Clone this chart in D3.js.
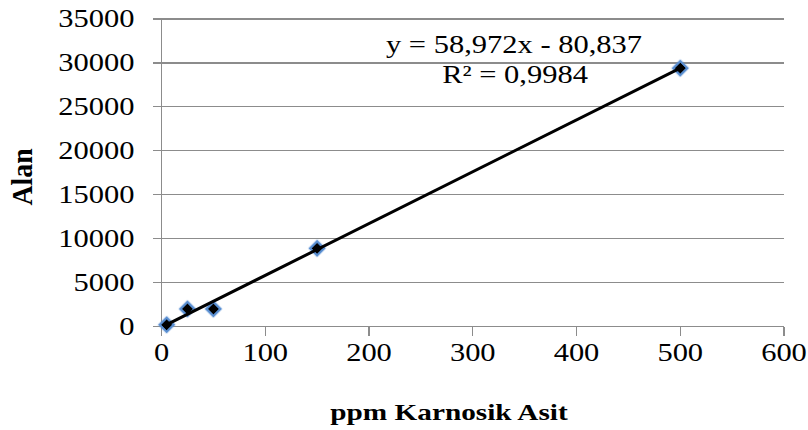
<!DOCTYPE html>
<html>
<head>
<meta charset="utf-8">
<script src="https://cdn.jsdelivr.net/npm/d3@7"></script>
<style>
  html, body { margin: 0; padding: 0; background: #fff; }
  svg { display: block; }
</style>
</head>
<body>
<svg id="chart" width="808" height="430"></svg>
<script>
// ---- data ----
const concentrations = [5, 25, 50, 150, 500];        // ppm Karnosik Asit
const areas = [200, 2000, 2000, 8900, 29400];         // Alan
const xTicks = [0, 100, 200, 300, 400, 500, 600];
const yTicks = [0, 5000, 10000, 15000, 20000, 25000, 30000, 35000];
const slope = 58.972;
const intercept = -80.837;
const equationLabel = "y = 58,972x - 80,837";
const r2Label = "R² = 0,9984";
const xTitle = "ppm Karnosik Asit";
const yTitle = "Alan";

(function () {
// ---- layout ----
const svg = d3.select("#chart");
const pLeft = 161.5, pRight = 784, pTop = 19, pBottom = 326.5;
const x = d3.scaleLinear().domain([0, 600]).range([pLeft, pRight]);
const y = d3.scaleLinear().domain([0, 35000]).range([pBottom, pTop]);
const gridColor = "#8c8c8c";
const serif = "'Liberation Serif', 'Times New Roman', serif";
const SX = 1.22; // horizontal stretch of the original's text

// horizontal gridlines (with left tick extension)
svg.append("g")
  .selectAll("line")
  .data(yTicks)
  .join("line")
  .attr("x1", pLeft - 9)
  .attr("x2", pRight)
  .attr("y1", d => y(d))
  .attr("y2", d => y(d))
  .attr("stroke", gridColor)
  .attr("stroke-width", 1.2)
  .attr("shape-rendering", "crispEdges");

// y axis line
svg.append("line")
  .attr("x1", pLeft).attr("x2", pLeft)
  .attr("y1", y(35000)).attr("y2", y(0))
  .attr("stroke", gridColor).attr("stroke-width", 1.2)
  .attr("shape-rendering", "crispEdges");

// x axis ticks
svg.append("g")
  .selectAll("line")
  .data(xTicks)
  .join("line")
  .attr("x1", d => x(d)).attr("x2", d => x(d))
  .attr("y1", pBottom).attr("y2", pBottom + 9)
  .attr("stroke", gridColor).attr("stroke-width", 1.2)
  .attr("shape-rendering", "crispEdges");

// y tick labels
svg.append("g")
  .selectAll("text")
  .data(yTicks)
  .join("text")
  .attr("transform", d => `translate(${pLeft - 27},${y(d) + 8}) scale(${SX},1)`)
  .attr("text-anchor", "end")
  .attr("font-family", serif)
  .attr("font-size", 25)
  .attr("fill", "#000")
  .text(d => d);

// x tick labels
svg.append("g")
  .selectAll("text")
  .data(xTicks)
  .join("text")
  .attr("transform", d => `translate(${x(d)},${pBottom + 34}) scale(${SX},1)`)
  .attr("text-anchor", "middle")
  .attr("font-family", serif)
  .attr("font-size", 25)
  .attr("fill", "#000")
  .text(d => d);

// axis titles
svg.append("text")
  .attr("transform", `translate(449,420) scale(${SX},1)`)
  .attr("text-anchor", "middle")
  .attr("font-family", serif)
  .attr("font-weight", "bold")
  .attr("font-size", 24)
  .text(xTitle);

svg.append("text")
  .attr("transform", `translate(32,177) rotate(-90) scale(1.16,1.2)`)
  .attr("text-anchor", "middle")
  .attr("font-family", serif)
  .attr("font-weight", "bold")
  .attr("font-size", 24)
  .text(yTitle);

// markers
const pts = concentrations.map((c, i) => ({ c, a: areas[i] }));
const defs = svg.append("defs");
const f = defs.append("filter").attr("id", "glow").attr("x", "-50%").attr("y", "-50%").attr("width", "200%").attr("height", "200%");
f.append("feGaussianBlur").attr("stdDeviation", 0.5);

const sym = d3.symbol().type(d3.symbolSquare).size(105);
svg.append("g")
  .selectAll("path")
  .data(pts)
  .join("path")
  .attr("d", sym)
  .attr("transform", d => `translate(${x(d.c)},${y(d.a)}) rotate(45)`)
  .attr("fill", "#000")
  .attr("stroke", "#5a8fd2")
  .attr("stroke-width", 2.2)
  .attr("filter", "url(#glow)");

// trendline
const xMin = d3.min(concentrations), xMax = d3.max(concentrations);
svg.append("line")
  .attr("x1", x(xMin)).attr("y1", y(slope * xMin + intercept))
  .attr("x2", x(xMax)).attr("y2", y(slope * xMax + intercept))
  .attr("stroke", "#000")
  .attr("stroke-width", 3);

// equation labels
svg.append("text")
  .attr("transform", `translate(514,53) scale(${SX},1)`)
  .attr("text-anchor", "middle")
  .attr("font-family", serif)
  .attr("font-size", 25)
  .text(equationLabel);

svg.append("text")
  .attr("transform", `translate(515,83) scale(${SX},1)`)
  .attr("text-anchor", "middle")
  .attr("font-family", serif)
  .attr("font-size", 25)
  .text(r2Label);
})();
</script>
</body>
</html>
